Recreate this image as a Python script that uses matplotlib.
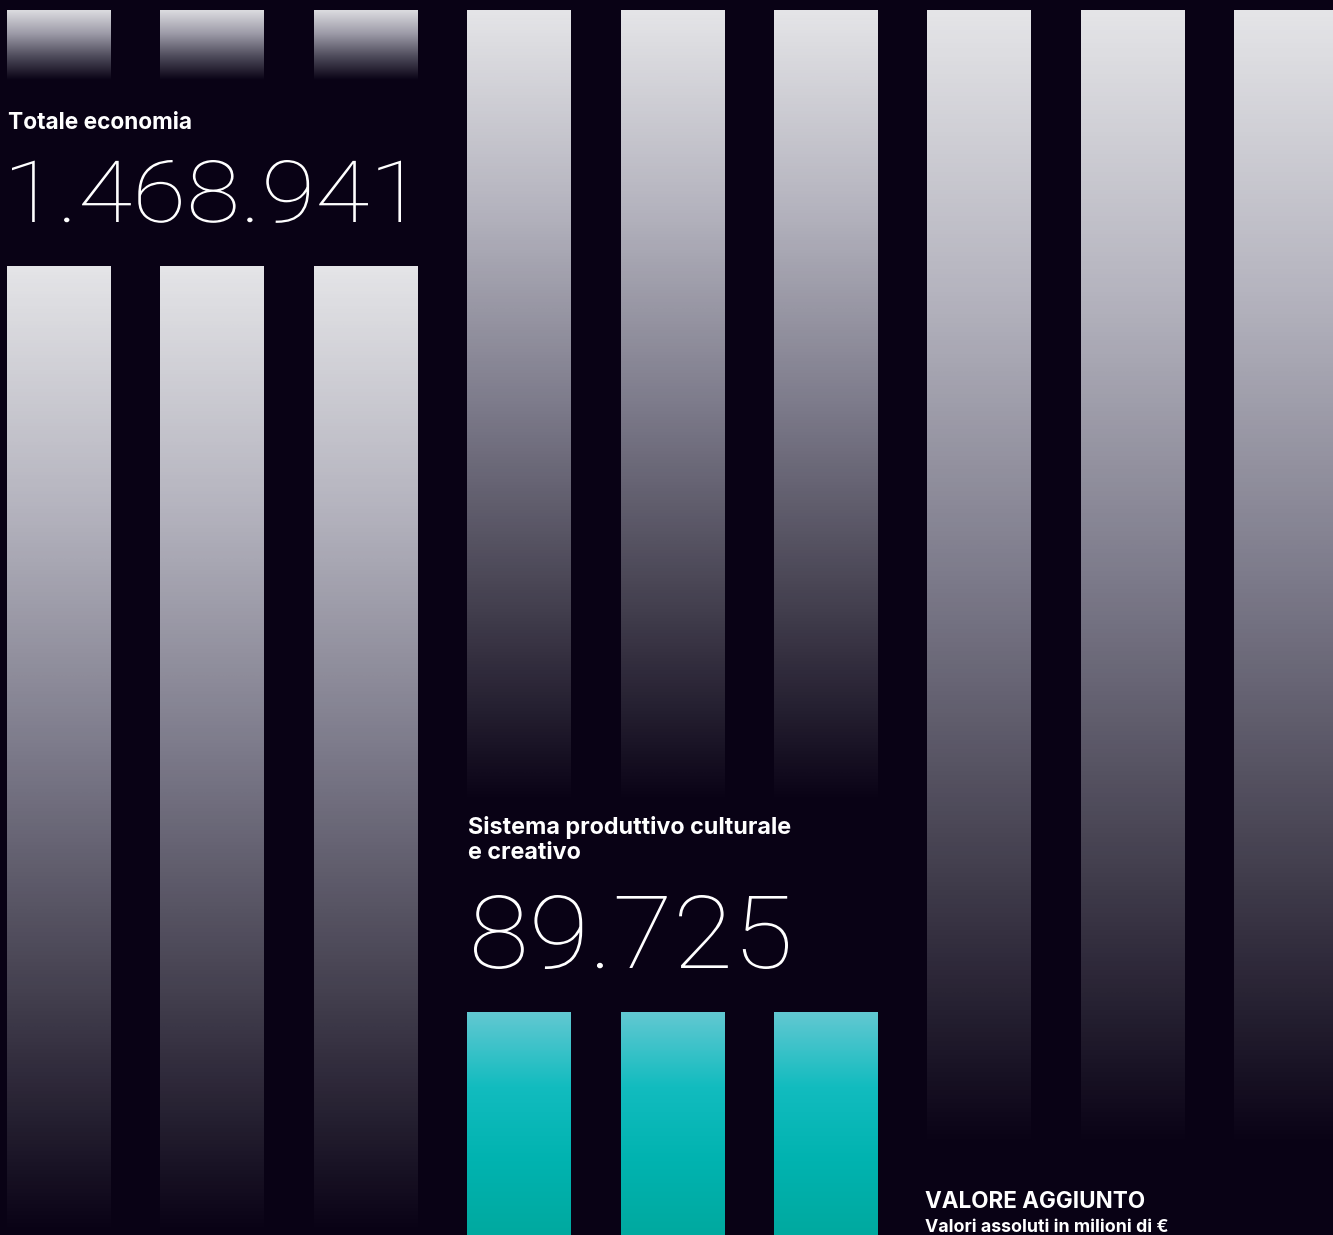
import numpy as np
import matplotlib.pyplot as plt
from matplotlib.colors import LinearSegmentedColormap
from matplotlib.font_manager import FontProperties
from matplotlib.textpath import TextPath
from matplotlib.patches import PathPatch
from matplotlib.transforms import Affine2D

# chart values
categories = ['Totale economia', 'Sistema produttivo culturale\ne creativo']
values = [1468941, 89725]
title = 'VALORE AGGIUNTO'
subtitle = 'Valori assoluti in milioni di €'

bg = '#090215'
W, H = 1333, 1235

fig = plt.figure(figsize=(W / 100, H / 100), dpi=100)
fig.patch.set_facecolor(bg)
ax = fig.add_axes([0, 0, 1, 1])
ax.set_facecolor(bg)
ax.axis('off')

grey = LinearSegmentedColormap.from_list('grey', ['#e4e4e7', '#b4b3be', '#7c7a8a', '#44404f', bg])
stub = LinearSegmentedColormap.from_list('stub', ['#dcdce0', '#9d9ba8', '#4d4a5a', bg])
teal = LinearSegmentedColormap.from_list('teal', ['#62c8d2', '#12bcbf', '#00b3b0', '#00a99f'])

grad = np.linspace(0, 1, 256).reshape(-1, 1)


def bar(x0, top, bottom, cmap, w=103.5):
    ax.imshow(grad, cmap=cmap, aspect='auto', extent=(x0, x0 + w, bottom, top),
              interpolation='bicubic', zorder=1)


step = 153.4
xs = [7 + step * i for i in range(9)]

# group 1: total economy
for x in xs[0:3]:
    bar(x, 10, 80, stub)
    bar(x, 266, H + 1, grey)
# group 2: cultural system
for x in xs[3:6]:
    bar(x, 10, 805, grey)
    bar(x, 1012, H + 1, teal)
# group 3
for x in xs[6:9]:
    bar(x, 10, 1150, grey)

ax.set_xlim(0, W)
ax.set_ylim(H, 0)


def fmt(v):
    return f'{v:,}'.replace(',', '.')


big_font = FontProperties(family='Roboto', weight='light')


def big_number(x0, x1, top, base, v):
    # draw the number as a path, stretched to the wide grotesk of the original
    tp = TextPath((0, 0), fmt(v), size=100, prop=big_font)
    pts = np.concatenate(tp.to_polygons())
    xmin, xmax = pts[:, 0].min(), pts[:, 0].max()
    ymax = pts[:, 1].max()
    sx = (x1 - x0) / (xmax - xmin)
    sy = (base - top) / ymax
    tr = Affine2D().translate(-xmin, 0).scale(sx, -sy).translate(x0, base)
    ax.add_patch(PathPatch(tr.transform_path(tp), color='white', lw=0, zorder=3))


lab = dict(color='white', fontweight='bold', family='Inter', va='baseline', ha='left')

ax.text(8, 129, categories[0], fontsize=16.3, **lab)
big_number(12, 401, 160, 222, values[0])

line1, line2 = categories[1].split('\n')
ax.text(468, 834, line1, fontsize=16.8, **lab)
ax.text(468, 859, line2, fontsize=16.8, **lab)
big_number(474, 788, 895, 968, values[1])

ax.text(925, 1208, title, fontsize=16.2, **lab)
ax.text(925, 1232, subtitle, fontsize=12.8, **lab)

fig.savefig('out.png', dpi=100, facecolor=bg)
